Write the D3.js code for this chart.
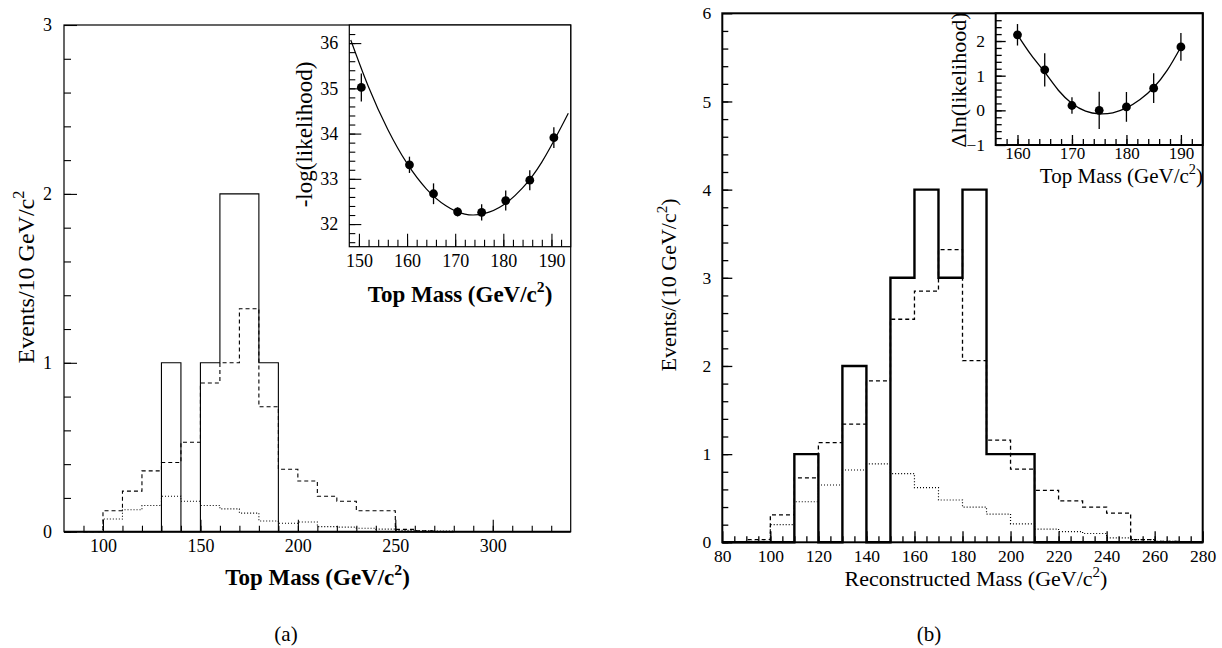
<!DOCTYPE html>
<html>
<head>
<meta charset="utf-8">
<script src="https://cdn.jsdelivr.net/npm/d3@7/dist/d3.min.js"></script>
<style>
  body { margin: 0; background: #fff; }
  svg text { font-family: 'Liberation Serif', 'DejaVu Serif', serif; }
</style>
</head>
<body>
<script>
// ----- data, panel (a) -----
const binsA = [90, 100, 110, 120, 130, 140, 150, 160, 170, 180, 190, 200, 210, 220, 230, 240, 250, 260, 270];
const solidA = [0, 0, 0, 0, 1, 0, 1, 2, 2, 1, 0, 0, 0, 0, 0, 0, 0, 0, 0];
const dashedA = [0, 0.124, 0.24, 0.36, 0.41, 0.53, 0.88, 1.0, 1.32, 0.74, 0.37, 0.30, 0.21, 0.18, 0.124, 0.124, 0.014, 0.005, 0];
const dottedA = [0, 0.075, 0.13, 0.155, 0.21, 0.18, 0.155, 0.135, 0.11, 0.063, 0.05, 0.057, 0.03, 0.027, 0.02, 0.015, 0.008, 0.005, 0.004];

const likeMassA = [150.5, 160.5, 165.5, 170.5, 175.5, 180.5, 185.5, 190.5];
const likeValA = [35.02, 33.31, 32.67, 32.27, 32.26, 32.52, 32.97, 33.91];
const likeErrA = [0.31, 0.18, 0.23, 0.1, 0.18, 0.22, 0.22, 0.23];
const fitMassA = [148.3, 152, 156, 160, 164, 168, 172, 176, 180, 184, 188, 192, 193.5];
const fitValA = [36.07, 35.03, 34.09, 33.34, 32.78, 32.41, 32.22, 32.23, 32.42, 32.80, 33.37, 34.14, 34.45];

// ----- data, panel (b) -----
const binsB = [80, 90, 100, 110, 120, 130, 140, 150, 160, 170, 180, 190, 200, 210, 220, 230, 240, 250, 260, 270];
const solidB = [0, 0, 0, 1, 0, 2, 0, 3, 4, 3, 4, 1, 1, 0, 0, 0, 0, 0, 0, 0];
const dashedB = [0, 0.03, 0.31, 0.73, 1.13, 1.34, 1.83, 2.53, 2.85, 3.32, 2.06, 1.16, 0.83, 0.59, 0.47, 0.40, 0.33, 0.03, 0.01, 0];
const dottedB = [0, 0.01, 0.20, 0.46, 0.65, 0.82, 0.89, 0.78, 0.62, 0.48, 0.40, 0.32, 0.21, 0.15, 0.12, 0.10, 0.05, 0.03, 0.01, 0];

const likeMassB = [160, 165, 170, 175, 180, 185, 190];
const likeValB = [2.18, 1.17, 0.14, 0.0, 0.10, 0.64, 1.83];
const likeErrB = [0.31, 0.48, 0.24, 0.54, 0.43, 0.43, 0.40];
const fitMassB = [160, 162.5, 165, 167.5, 170, 172.5, 175, 177.5, 180, 182.5, 185, 187.5, 190];
const fitValB = [2.18, 1.6, 1.1, 0.58, 0.2, -0.02, -0.1, -0.07, 0.07, 0.31, 0.66, 1.16, 1.83];

const ticksA_x = [100, 150, 200, 250, 300];
const ticksA_y = [0, 1, 2, 3];
const ticksB_x = [80, 100, 120, 140, 160, 180, 200, 220, 240, 260, 280];
const ticksB_y = [0, 1, 2, 3, 4, 5, 6];

const SERIF = "'Liberation Serif', 'DejaVu Serif', serif";

const svg = d3.select('body').append('svg')
  .attr('width', 1222)
  .attr('height', 648);

// histogram outline as a step path (starts and ends at zero)
function histPts(lows, vals) {
  const w = lows[1] - lows[0];
  const pts = [[lows[0], 0]];
  lows.forEach((l, i) => pts.push([l, vals[i]]));
  const end = lows[lows.length - 1] + w;
  pts.push([end, vals[vals.length - 1]]);
  pts.push([end, 0]);
  return pts;
}

function drawAxis(g, orient, scale, pos, majors, minors, majLen, minLen, pad, fs, sw) {
  const mk = orient === 'left' ? d3.axisLeft : d3.axisBottom;
  const tr = orient === 'left' ? `translate(${pos},0)` : `translate(0,${pos})`;
  const m = g.append('g').attr('transform', tr)
    .call(mk(scale).tickValues(minors).tickSize(-minLen).tickFormat(''));
  m.select('.domain').remove();
  m.selectAll('line').attr('stroke-width', sw);
  const a = g.append('g').attr('transform', tr)
    .call(mk(scale).tickValues(majors).tickSize(-majLen).tickPadding(pad).tickFormat(d3.format('d')));
  a.select('.domain').remove();
  a.selectAll('line').attr('stroke-width', sw);
  a.attr('font-size', fs);
  a.selectAll('text').style('font-family', SERIF).style('font-size', fs + 'px');
}

// text with c^2 superscript
function label(x, y, pre, post, fs, opts = {}) {
  const t = svg.append('text')
    .attr('transform', `translate(${x},${y})` + (opts.rot ? ' rotate(-90)' : ''))
    .attr('text-anchor', opts.anchor || 'middle')
    .style('font-family', SERIF)
    .style('font-size', fs + 'px')
    .style('font-weight', opts.bold ? 'bold' : 'normal');
  t.append('tspan').text(pre);
  if (post !== null) {
    t.append('tspan').attr('dy', -0.42 * fs).style('font-size', (fs * 0.68) + 'px').text('2');
    t.append('tspan').attr('dy', 0.42 * fs).text(post);
  }
}

function drawHist(g, x, y, lows, vals, sw, dash) {
  g.append('path')
    .datum(histPts(lows, vals))
    .attr('fill', 'none')
    .attr('stroke', '#000')
    .attr('stroke-width', sw)
    .attr('stroke-dasharray', dash)
    .attr('d', d3.line().x(d => x(d[0])).y(d => y(d[1])).curve(d3.curveStepAfter));
}

function drawLike(g, x, y, mass, vals, errs, fm, fv, sw) {
  g.append('path')
    .datum(fm.map((m, i) => [m, fv[i]]))
    .attr('fill', 'none').attr('stroke', '#000').attr('stroke-width', sw)
    .attr('d', d3.line().x(d => x(d[0])).y(d => y(d[1])).curve(d3.curveNatural));
  g.selectAll('.err').data(mass).join('line')
    .attr('x1', d => x(d)).attr('x2', d => x(d))
    .attr('y1', (d, i) => y(vals[i] - errs[i]))
    .attr('y2', (d, i) => y(vals[i] + errs[i]))
    .attr('stroke', '#000').attr('stroke-width', 1.3);
  g.selectAll('.dot').data(mass).join('circle')
    .attr('cx', d => x(d)).attr('cy', (d, i) => y(vals[i]))
    .attr('r', 4.4).attr('fill', '#000');
}

// ================= panel (a) =================
const gA = svg.append('g');
const xA = d3.scaleLinear().domain([80, 340]).range([64, 570.7]);
const yA = d3.scaleLinear().domain([0, 3]).range([531.7, 25]);

drawHist(gA, xA, yA, binsA, dottedA, 1.1, '1,2');
drawHist(gA, xA, yA, binsA, dashedA, 1.1, '4,3');
drawHist(gA, xA, yA, binsA, solidA, 1.1, null);

drawAxis(gA, 'bottom', xA, 531.7, ticksA_x, d3.range(90, 340, 10), 12, 6, 7.5, 18, 1.1);
drawAxis(gA, 'left', yA, 64, ticksA_y, d3.range(0, 3, 0.2), 13, 7, 12, 18, 1.1);

gA.append('rect')
  .attr('x', xA.range()[0]).attr('y', yA.range()[1])
  .attr('width', xA.range()[1] - xA.range()[0])
  .attr('height', yA.range()[0] - yA.range()[1])
  .attr('fill', 'none').attr('stroke', '#000').attr('stroke-width', 1.2);
gA.append('line')
  .attr('x1', xA.range()[0]).attr('x2', xA.range()[1])
  .attr('y1', yA(0)).attr('y2', yA(0))
  .attr('stroke', '#000').attr('stroke-width', 2);

// inset (a)
const iA = svg.append('g');
const ixA = d3.scaleLinear().domain([148, 194]).range([349.3, 570.7]);
const iyA = d3.scaleLinear().domain([31.5, 36.4]).range([246.7, 25]);
iA.append('rect')
  .attr('x', 349.3).attr('y', 25).attr('width', 570.7 - 349.3).attr('height', 246.7 - 25)
  .attr('fill', '#fff').attr('stroke', '#000').attr('stroke-width', 1.2);
drawAxis(iA, 'bottom', ixA, 246.7, [150, 160, 170, 180, 190], d3.range(150, 194, 2), 13, 7, 7.5, 18, 1.1);
drawAxis(iA, 'left', iyA, 349.3, [32, 33, 34, 35, 36], d3.range(31.6, 36.4, 0.2), 12, 6, 11, 18, 1.1);
drawLike(iA, ixA, iyA, likeMassA, likeValA, likeErrA, fitMassA, fitValA, 1.2);

label(312, 134.5, '-log(likelihood)', null, 23, { rot: true });
label(460, 302, 'Top Mass (GeV/c', ')', 23, { bold: true });
label(34, 277, 'Events/10 GeV/c', '', 24, { rot: true });
label(317.5, 585, 'Top Mass (GeV/c', ')', 23, { bold: true });
label(286, 641, '(a)', null, 21);

// ================= panel (b) =================
const gB = svg.append('g');
const xB = d3.scaleLinear().domain([80, 280]).range([722.3, 1202.7]);
const yB = d3.scaleLinear().domain([0, 6]).range([542.3, 13.3]);

drawHist(gB, xB, yB, binsB, dottedB, 1.2, '1,2');
drawHist(gB, xB, yB, binsB, dashedB, 1.3, '4,3');
drawHist(gB, xB, yB, binsB, solidB, 2.4, null);

drawAxis(gB, 'bottom', xB, 542.3, ticksB_x, d3.range(85, 280, 5), 11, 6, 7.3, 17.5, 1.3);
drawAxis(gB, 'left', yB, 722.3, ticksB_y, d3.range(0, 6, 0.2), 10, 6, 11, 17.5, 1.3);

gB.append('rect')
  .attr('x', xB.range()[0]).attr('y', yB.range()[1])
  .attr('width', xB.range()[1] - xB.range()[0])
  .attr('height', yB.range()[0] - yB.range()[1])
  .attr('fill', 'none').attr('stroke', '#000').attr('stroke-width', 2);

// inset (b)
const iB = svg.append('g');
const ixB = d3.scaleLinear().domain([156, 194]).range([995.7, 1202.7]);
const iyB = d3.scaleLinear().domain([-1, 2.8]).range([145, 13.3]);
iB.append('rect')
  .attr('x', 995.7).attr('y', 13.3).attr('width', 1202.7 - 995.7).attr('height', 145 - 13.3)
  .attr('fill', '#fff').attr('stroke', '#000').attr('stroke-width', 2);
drawAxis(iB, 'bottom', ixB, 145, [160, 170, 180, 190], d3.range(158, 194, 2), 10, 6, 2.2, 17, 1.3);
drawAxis(iB, 'left', iyB, 995.7, [-1, 0, 1, 2], d3.range(-0.8, 2.8, 0.2), 10, 6, 10.7, 17.5, 1.3);
drawLike(iB, ixB, iyB, likeMassB, likeValB, likeErrB, fitMassB, fitValB, 1.3);

label(966, 80, '\u0394ln(likelihood)', null, 22, { rot: true });
label(1203, 183, 'Top Mass (GeV/c', ')', 21, { anchor: 'end' });
label(676, 285, 'Events/(10 GeV/c', ')', 22, { rot: true });
label(976, 586, 'Reconstructed Mass (GeV/c', ')', 22);
label(929, 641, '(b)', null, 21);
</script>
</body>
</html>
